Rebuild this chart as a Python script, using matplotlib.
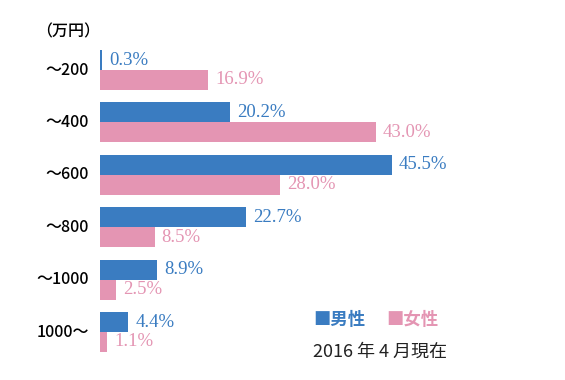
import numpy as np
import matplotlib
matplotlib.use("Agg")
import matplotlib.pyplot as plt

plt.rcParams['font.family'] = ['Noto Sans CJK JP', 'DejaVu Sans']

# data
categories = ["～200", "～400", "～600", "～800", "～1000", "1000～"]
male = [0.3, 20.2, 45.5, 22.7, 8.9, 4.4]
female = [16.9, 43.0, 28.0, 8.5, 2.5, 1.1]
series_names = ["男性", "女性"]
unit_label = "（万円）"
note = "2016 年 4 月現在"

c_male = "#3a7cc1"
c_female = "#e495b3"

fig = plt.figure(figsize=(5.65, 3.8), dpi=100)
ax = fig.add_axes([100 / 565, 0, 465 / 565, 1])

y = np.arange(len(categories))
h = 0.38
ax.barh(y - h / 2, male, height=h, color=c_male, edgecolor="none")
ax.barh(y + h / 2, female, height=h, color=c_female, edgecolor="none")

ax.set_xlim(0, 465 / 6.42)
ax.set_ylim(5.916, -1.336)
ax.axis("off")

for i in range(len(categories)):
    ax.annotate(f"{male[i]:.1f}%", (male[i], y[i] - h / 2), xytext=(5, 0),
                textcoords="offset points", va="center", ha="left",
                fontsize=13.5, color=c_male, family="Liberation Serif")
    ax.annotate(f"{female[i]:.1f}%", (female[i], y[i] + h / 2), xytext=(5, 0),
                textcoords="offset points", va="center", ha="left",
                fontsize=13.5, color=c_female, family="Liberation Serif")
    ax.annotate(categories[i], (0, y[i]), xytext=(-8, 0),
                textcoords="offset points", va="center", ha="right",
                fontsize=11.5, color="black", fontweight="medium")

ax.annotate(unit_label, (0, -0.72), xytext=(0, 0), textcoords="offset points",
            va="center", ha="right", fontsize=11.5, color="black",
            fontweight="medium", annotation_clip=False)

fig.text(313 / 565, 1 - 320 / 380, "■" + series_names[0], color=c_male,
         fontsize=12.5, fontweight="bold", va="center", ha="left")
fig.text(386 / 565, 1 - 320 / 380, "■" + series_names[1], color=c_female,
         fontsize=12.5, fontweight="bold", va="center", ha="left")
fig.text(313 / 565, 1 - 352 / 380, note, color="#222222",
         fontsize=13, va="center", ha="left")

fig.savefig("out.png", dpi=100)
